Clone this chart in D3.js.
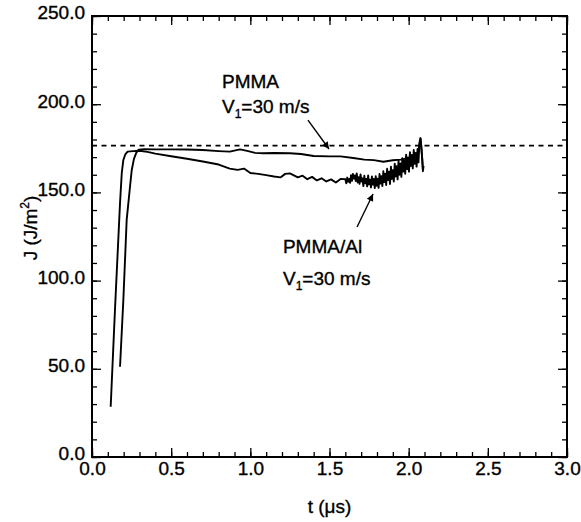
<!DOCTYPE html>
<html>
<head>
<meta charset="utf-8">
<script src="https://cdn.jsdelivr.net/npm/d3@7"></script>
<style>
  body { margin: 0; background: #fff; }
  svg { font-family: "Liberation Sans", Arial, Helvetica, sans-serif; }
  text { stroke: #000; stroke-width: 0.35; fill: #000; }
  .tick text { font-size: 19px; fill: #000; }
  .tick line { stroke: #000; stroke-width: 1.3; }
</style>
</head>
<body>
<svg id="grafico" width="581" height="522"></svg>
<script>
// datos: [t (us), J (J/m2)]
const ticksX = [0, 0.5, 1.0, 1.5, 2.0, 2.5, 3.0];
const ticksY = [0, 50, 100, 150, 200, 250];
const J_referencia = 176.5;

const pmma = [
  [0.177, 51.2], [0.198, 89], [0.219, 134.4], [0.24, 153.2], [0.251, 162.7],
  [0.265, 169], [0.28, 172.5], [0.295, 174.2], [0.33, 174.5], [0.4, 174.4],
  [0.5, 174.4], [0.6, 174.3], [0.7, 174.0], [0.8, 173.4], [0.87, 173.1],
  [0.935, 174.4], [0.98, 173.5], [1.03, 172.4], [1.08, 172.2], [1.15, 172.3],
  [1.25, 172.2], [1.32, 171.8], [1.40, 170.6], [1.50, 170.4], [1.57, 170.4],
  [1.65, 169.5], [1.72, 168.6], [1.78, 168.3], [1.84, 167.4], [1.90, 168.2],
  [1.95, 168.6], [2.00, 169.5], [2.04, 170.5], [2.06, 172], [2.07, 178],
  [2.075, 180.5], [2.085, 170], [2.09, 163]
];

const pmma_al = [
  [0.118, 28.5], [0.145, 83.3], [0.177, 144], [0.188, 161], [0.198, 168.4],
  [0.21, 171.5], [0.225, 173.1], [0.26, 173.4], [0.30, 173.6], [0.35, 173.0],
  [0.40, 172.0], [0.50, 170.5], [0.60, 169.1], [0.70, 167.5], [0.80, 165.8],
  [0.87, 163.5], [0.92, 162.8], [0.96, 163.5], [1.00, 161.0], [1.05, 160.5],
  [1.10, 159.8], [1.15, 159.0], [1.19, 158.5], [1.22, 160.5], [1.25, 160.8],
  [1.30, 158.5], [1.33, 159.5], [1.36, 157.5], [1.39, 158.8], [1.42, 156.8],
  [1.45, 158.0], [1.48, 156.2], [1.51, 157.4], [1.54, 155.6], [1.57, 157.6],
  [1.600, 157.5], [1.606, 155.2], [1.612, 158.4], [1.618, 156.0], [1.624, 157.6],
  [1.630, 155.4], [1.636, 159.8], [1.642, 156.6], [1.648, 160.4], [1.654, 157.8],
  [1.660, 159.6], [1.666, 156.4], [1.672, 160.8], [1.678, 155.6], [1.684, 158.6],
  [1.690, 154.8], [1.696, 160.2], [1.702, 156.2], [1.708, 158.0], [1.714, 153.6],
  [1.720, 159.4], [1.726, 155.2], [1.732, 157.6], [1.738, 153.4], [1.744, 159.6],
  [1.750, 154.6], [1.756, 157.2], [1.762, 152.8], [1.768, 159.0], [1.774, 154.4],
  [1.780, 157.6], [1.786, 152.4], [1.792, 159.2], [1.798, 153.8], [1.804, 157.8],
  [1.810, 152.6], [1.816, 160.4], [1.822, 155.0], [1.828, 159.2], [1.834, 153.6],
  [1.840, 162.0], [1.846, 155.8], [1.852, 160.6], [1.858, 154.2], [1.864, 163.4],
  [1.870, 157.0], [1.876, 161.8], [1.882, 154.8], [1.888, 164.6], [1.894, 157.6],
  [1.900, 162.6], [1.906, 156.2], [1.912, 166.2], [1.918, 159.0], [1.924, 164.8],
  [1.930, 157.4], [1.936, 167.8], [1.942, 160.0], [1.948, 166.4], [1.954, 158.8],
  [1.960, 169.4], [1.966, 161.8], [1.972, 168.0], [1.978, 160.6], [1.984, 171.4],
  [1.990, 163.2], [1.996, 169.8], [2.002, 161.8], [2.008, 172.8], [2.014, 165.0],
  [2.020, 171.2], [2.026, 163.6], [2.032, 174.0], [2.038, 166.2], [2.044, 172.4],
  [2.050, 164.6], [2.056, 174.6], [2.062, 167.0], [2.068, 178.0], [2.074, 180.8],
  [2.080, 176.0], [2.086, 168.0], [2.090, 162.0], [2.094, 165.0]
];

// anotaciones en coordenadas de datos
const flechas = [
  { desde: [1.364, 191], hasta: [1.497, 174.6] },
  { desde: [1.674, 130.4], hasta: [1.775, 149.1] }
];
const etiquetas = [
  { t: 0.821, J: 209.2, texto: 'PMMA' },
  { t: 0.821, J: 195.0, texto: 'V', sub: '1', resto: '=30 m/s' },
  { t: 1.206, J: 115.6, texto: 'PMMA/Al' },
  { t: 1.206, J: 97.5, texto: 'V', sub: '1', resto: '=30 m/s' }
];

const margen = { left: 92, right: 567, top: 16, bottom: 457 };

const svg = d3.select('#grafico');

const x = d3.scaleLinear().domain([0, 3]).range([margen.left, margen.right]);
const y = d3.scaleLinear().domain([0, 250]).range([margen.bottom, margen.top]);

const menoresX = d3.range(0, 3.001, 0.1).map(d => +d.toFixed(1));
const menoresY = d3.range(0, 251, 10);
const fmt = d3.format('.1f');

// ticks menores
svg.append('g').attr('transform', `translate(0,${margen.bottom})`)
  .call(d3.axisBottom(x).tickValues(menoresX).tickSize(-5).tickFormat(''));
svg.append('g').attr('transform', `translate(0,${margen.top})`)
  .call(d3.axisTop(x).tickValues(menoresX).tickSize(-5).tickFormat(''));
svg.append('g').attr('transform', `translate(${margen.left},0)`)
  .call(d3.axisLeft(y).tickValues(menoresY).tickSize(-5).tickFormat(''));
svg.append('g').attr('transform', `translate(${margen.right},0)`)
  .call(d3.axisRight(y).tickValues(menoresY).tickSize(-5).tickFormat(''));

// ticks mayores
svg.append('g').attr('transform', `translate(0,${margen.bottom})`)
  .call(d3.axisBottom(x).tickValues(ticksX).tickSize(-9).tickPadding(5).tickFormat(fmt));
svg.append('g').attr('transform', `translate(0,${margen.top})`)
  .call(d3.axisTop(x).tickValues(ticksX).tickSize(-9).tickFormat(''));
svg.append('g').attr('transform', `translate(${margen.left},0)`)
  .call(d3.axisLeft(y).tickValues(ticksY).tickSize(-9).tickPadding(7).tickFormat(fmt))
  .selectAll('text').attr('dy', '0.15em');
svg.append('g').attr('transform', `translate(${margen.right},0)`)
  .call(d3.axisRight(y).tickValues(ticksY).tickSize(-9).tickFormat(''));

svg.selectAll('.domain').remove();

svg.append('rect')
  .attr('x', margen.left).attr('y', margen.top)
  .attr('width', margen.right - margen.left)
  .attr('height', margen.bottom - margen.top)
  .attr('fill', 'none').attr('stroke', '#000').attr('stroke-width', 2);

// linea de referencia
svg.append('line')
  .attr('x1', x(0)).attr('x2', x(3))
  .attr('y1', y(J_referencia)).attr('y2', y(J_referencia))
  .attr('stroke', '#000').attr('stroke-width', 1.6)
  .attr('stroke-dasharray', '5,4.5');

const linea = d3.line().x(d => x(d[0])).y(d => y(d[1]));

svg.selectAll('.curva')
  .data([pmma, pmma_al])
  .join('path')
  .attr('class', 'curva')
  .attr('d', linea)
  .attr('fill', 'none')
  .attr('stroke', '#000')
  .attr('stroke-width', 1.9)
  .attr('stroke-linejoin', 'round');

// flechas
svg.append('defs').append('marker')
  .attr('id', 'punta')
  .attr('viewBox', '0 0 10 10')
  .attr('refX', 10).attr('refY', 5)
  .attr('markerWidth', 9).attr('markerHeight', 7)
  .attr('markerUnits', 'userSpaceOnUse')
  .attr('orient', 'auto')
  .append('path').attr('d', 'M0,0 L10,5 L0,10 Z').attr('fill', '#000');

svg.selectAll('.flecha')
  .data(flechas)
  .join('line')
  .attr('class', 'flecha')
  .attr('x1', d => x(d.desde[0])).attr('y1', d => y(d.desde[1]))
  .attr('x2', d => x(d.hasta[0])).attr('y2', d => y(d.hasta[1]))
  .attr('stroke', '#000').attr('stroke-width', 1.4)
  .attr('marker-end', 'url(#punta)');

const textos = svg.selectAll('.etiqueta')
  .data(etiquetas)
  .join('text')
  .attr('class', 'etiqueta')
  .attr('x', d => x(d.t)).attr('y', d => y(d.J))
  .attr('font-size', 19);

textos.append('tspan').text(d => d.texto);
textos.filter(d => d.sub).append('tspan')
  .attr('font-size', 12).attr('dy', 5).text(d => d.sub);
textos.filter(d => d.resto).append('tspan')
  .attr('dy', -5).text(d => d.resto);

// titulos de ejes
svg.append('text')
  .attr('x', (margen.left + margen.right) / 2).attr('y', 513)
  .attr('text-anchor', 'middle').attr('font-size', 19)
  .text('t (\u03bcs)');

const tituloY = svg.append('text')
  .attr('transform', `translate(37,228) rotate(-90)`)
  .attr('text-anchor', 'middle').attr('font-size', 19);
tituloY.append('tspan').text('J (J/m');
tituloY.append('tspan').attr('font-size', 12).attr('dy', -8).text('2');
tituloY.append('tspan').attr('dy', 8).text(')');
</script>
</body>
</html>
